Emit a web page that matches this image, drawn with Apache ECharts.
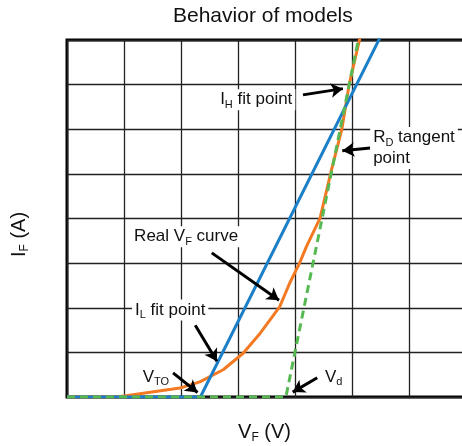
<!DOCTYPE html>
<html>
<head>
<meta charset="utf-8">
<script src="https://cdn.jsdelivr.net/npm/echarts@6/dist/echarts.min.js"></script>
<style>
  html, body { margin: 0; padding: 0; background: #fff; }
  #chart { width: 462px; height: 446px; }
</style>
</head>
<body>
<div id="chart"></div>
<script>
// Forward voltage (V) / forward current (A) pairs for each model
const realCurve = [
  [0, 0], [0.88, 0], [1.98, 0.2], [2.33, 0.34], [2.74, 0.61], [3.09, 0.98],
  [3.39, 1.43], [3.73, 2.02], [3.91, 2.56], [4.08, 3.0], [4.20, 3.37],
  [4.44, 4.01], [4.64, 5.09], [4.82, 5.99], [4.95, 7.0], [5.14, 8.05]
];
const fitLine = [[0, 0], [2.34, 0], [5.49, 8.05]];
const tangentLine = [[0, 0], [3.84, 0], [5.11, 8.0]];

// Callout text (rich-text markup) and the point each one sits at
const calloutLabels = [
  { text: '{t|I}{s|H}{t| fit point}', at: [3.32, 6.66], pos: 'inside' },
  { text: '{t|R}{s|D}{t| tangent}\n{t|point}', at: [5.31, 5.58], pos: 'right' },
  { text: '{t|Real V}{s|F}{t| curve}', at: [2.09, 3.59], pos: 'inside' },
  { text: '{t|I}{s|L}{t| fit point}', at: [1.81, 1.95], pos: 'inside' },
  { text: '{t|V}{s|TO}', at: [1.56, 0.45], pos: 'inside' },
  { text: '{t|V}{s|d}', at: [4.68, 0.45], pos: 'inside' }
];
// Callout arrows: [from, to]
const calloutArrows = [
  [[4.14, 6.77], [4.84, 6.91]],
  [[5.32, 5.58], [4.83, 5.52]],
  [[2.54, 3.23], [3.72, 2.17]],
  [[2.25, 1.61], [2.63, 0.80]],
  [[1.86, 0.54], [2.29, 0.10]],
  [[4.39, 0.43], [3.96, 0.11]]
];

const FONT = '"Liberation Sans", Arial, Helvetica, sans-serif';
const richStyles = {
  t: { fontSize: 17, lineHeight: 21, color: '#111', fontFamily: FONT },
  s: { fontSize: 11, lineHeight: 12, color: '#111', fontFamily: FONT, verticalAlign: 'bottom' }
};
const axisNameRich = {
  t: { fontSize: 20, color: '#111', fontFamily: FONT, lineHeight: 24 },
  s: { fontSize: 12, color: '#111', fontFamily: FONT, lineHeight: 13, verticalAlign: 'bottom' }
};

const chart = echarts.init(document.getElementById('chart'), null, { renderer: 'canvas' });

chart.setOption({
  animation: false,
  backgroundColor: '#fff',
  title: {
    text: 'Behavior of models',
    left: 173, top: 6, padding: 0,
    textStyle: { fontSize: 21, fontWeight: 'normal', color: '#111', fontFamily: FONT }
  },
  grid: {
    left: 67, top: 40, right: -4, bottom: 49,
    outerBoundsMode: 'none',
    show: true, borderColor: '#000', borderWidth: 3, backgroundColor: 'transparent'
  },
  xAxis: {
    type: 'value', min: 0, max: 7, interval: 1,
    axisLabel: { show: false }, axisTick: { show: false }, axisLine: { show: false },
    splitLine: { show: true, lineStyle: { color: '#222', width: 1.3 } },
    name: '{t|V}{s|F}{t| (V)}',
    nameLocation: 'middle', nameGap: 23,
    nameTextStyle: { rich: axisNameRich, padding: [0, 4, 0, 0] }
  },
  yAxis: {
    type: 'value', min: 0, max: 8, interval: 1,
    axisLabel: { show: false }, axisTick: { show: false }, axisLine: { show: false },
    splitLine: { show: true, lineStyle: { color: '#222', width: 1.3 } },
    name: '{t|I}{s|F}{t| (A)}',
    nameLocation: 'middle', nameGap: 36, nameRotate: 90,
    nameTextStyle: { rich: axisNameRich, padding: [0, 32, 0, 0] }
  },
  series: [
    {
      name: 'Real curve', type: 'line', data: realCurve,
      showSymbol: false, symbol: 'none', z: 2,
      lineStyle: { color: '#f37a23', width: 3 }
    },
    {
      name: 'Fit line', type: 'line', data: fitLine,
      showSymbol: false, symbol: 'none', z: 3,
      lineStyle: { color: '#1c7fc7', width: 3 }
    },
    {
      name: 'Tangent model', type: 'line', data: tangentLine,
      showSymbol: false, symbol: 'none', z: 4,
      lineStyle: { color: '#56b952', width: 3, type: [8, 5] }
    },
    {
      name: 'Callouts', type: 'line', data: [], z: 10, silent: true,
      markLine: {
        silent: true, animation: false,
        symbol: ['none', 'arrow'], symbolSize: [11, 12],
        label: { show: false },
        lineStyle: { color: '#000', width: 3, type: 'solid' },
        data: calloutArrows.map(a => [{ coord: a[0] }, { coord: a[1] }])
      },
      markPoint: {
        silent: true, animation: false,
        symbol: 'rect', symbolSize: 1,
        itemStyle: { color: 'rgba(0,0,0,0)' },
        data: calloutLabels.map(c => ({
          coord: c.at,
          label: {
            show: true, position: c.pos, distance: 0,
            formatter: c.text, rich: richStyles,
            backgroundColor: '#fff', padding: [0, 3, 0, 3]
          }
        }))
      }
    }
  ]
});
</script>
</body>
</html>
